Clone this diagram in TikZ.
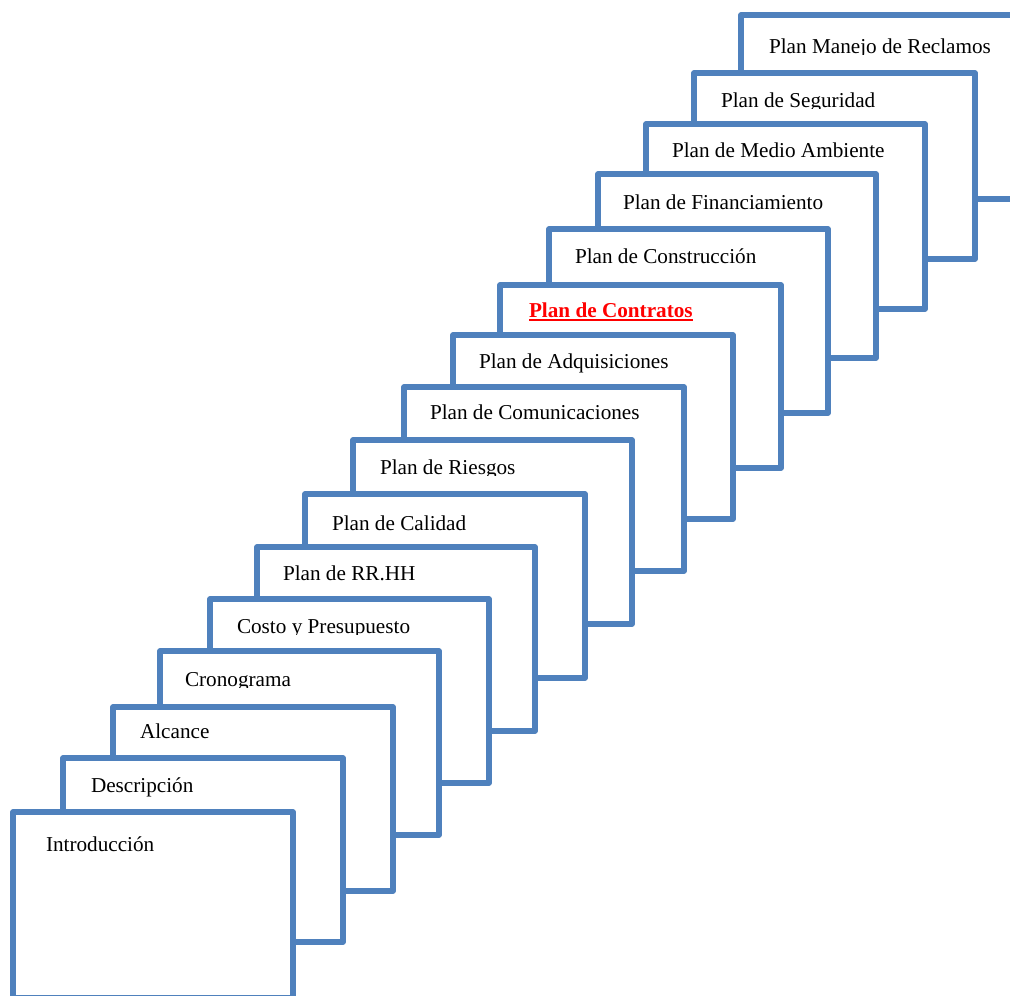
\documentclass[tikz,border=0pt]{standalone}
\usepackage{fontspec}
\setmainfont{Liberation Serif}
\definecolor{cardblue}{RGB}{79,129,189}
\definecolor{titlered}{RGB}{255,0,0}
\begin{document}
\begin{tikzpicture}[x=1pt,y=-1pt,
  card/.style={rectangle, draw=cardblue, line width=5.5pt, fill=white,
    line join=round, anchor=north west, inner sep=0pt, outer sep=0pt,
    minimum width=280pt, minimum height=184pt},
  cardtext/.style={anchor=base west, inner sep=0pt, outer sep=0pt,
    font=\fontsize{21.2pt}{25pt}\selectfont, text=black},
  hottext/.style={cardtext, text=titlered, font=\fontsize{21.2pt}{25pt}\selectfont\bfseries},
]
\useasboundingbox (0,0) rectangle (1010,996);
\clip (0,0) rectangle (1010,996);

% stack of cards, drawn from the back to the front
\node[card] (c16) at (741,15) {};
\begin{scope}
  \clip (760,20) rectangle (1010,54.5);
  \node[cardtext] (t16) at (769,53) {Plan Manejo de Reclamos};
\end{scope}

\node[card, minimum width=281pt, minimum height=186pt] (c15) at (694,73) {};
\begin{scope}
  \clip (712,80) rectangle (970,108.5);
  \node[cardtext] (t15) at (721,107) {Plan de Seguridad};
\end{scope}

\node[card, minimum width=279pt, minimum height=185pt] (c14) at (646,124) {};
\node[cardtext] (t14) at (672,157) {Plan de Medio Ambiente};

\node[card, minimum width=278pt] (c13) at (598,174) {};
\node[cardtext] (t13) at (623,209) {Plan de Financiamiento};

\node[card, minimum width=279pt] (c12) at (549,229) {};
\node[cardtext] (t12) at (575,263) {Plan de Construcción};

\node[card, minimum width=281pt, minimum height=183pt] (c11) at (500,285) {};
\node[hottext] (t11) at (529,317) {Plan de Contratos};
\draw[titlered, line width=1.8pt] ([yshift=-3pt]t11.base west) -- ([yshift=-3pt]t11.base east);

\node[card] (c10) at (453,335) {};
\node[cardtext] (t10) at (479,368) {Plan de Adquisiciones};

\node[card] (c9) at (404,387) {};
\node[cardtext] (t9) at (430,419) {Plan de Comunicaciones};

\node[card, minimum width=279pt] (c8) at (353,440) {};
\begin{scope}
  \clip (370,445) rectangle (625,475.5);
  \node[cardtext] (t8) at (380,474) {Plan de Riesgos};
\end{scope}

\node[card] (c7) at (305,494) {};
\node[cardtext] (t7) at (332,530) {Plan de Calidad};

\node[card, minimum width=278pt] (c6) at (257,547) {};
\node[cardtext] (t6) at (283,580) {Plan de RR.HH};

\node[card, minimum width=279pt] (c5) at (210,599) {};
\begin{scope}
  \clip (225,605) rectangle (480,634.5);
  \node[cardtext] (t5) at (237,633) {Costo y Presupuesto};
\end{scope}

\node[card, minimum width=279pt] (c4) at (160,651) {};
\begin{scope}
  \clip (175,656) rectangle (430,687.5);
  \node[cardtext] (t4) at (185,686) {Cronograma};
\end{scope}

\node[card] (c3) at (113,707) {};
\node[cardtext] (t3) at (140,738) {Alcance};

\node[card] (c2) at (63,758) {};
\node[cardtext] (t2) at (91,792) {Descripción};

\node[card, minimum height=186pt] (c1) at (13,812) {};
\node[cardtext] (t1) at (46,851) {Introducción};
\end{tikzpicture}
\end{document}
